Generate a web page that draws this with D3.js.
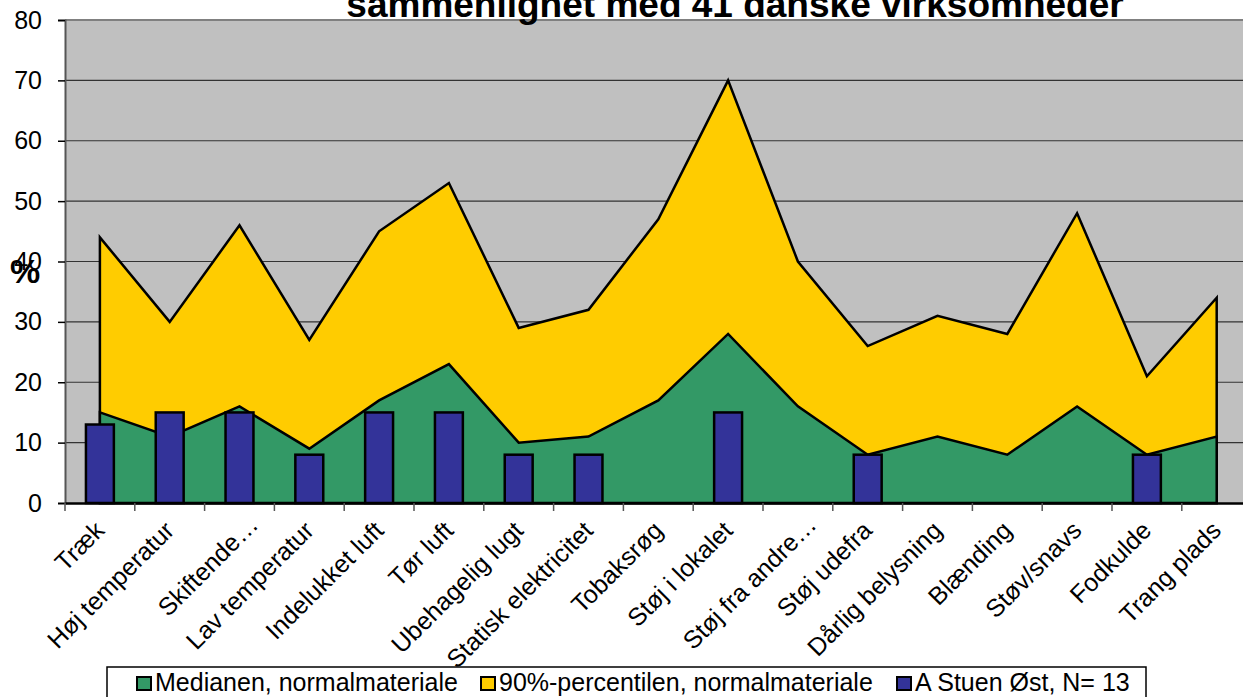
<!DOCTYPE html>
<html>
<head>
<meta charset="utf-8">
<script src="https://cdn.jsdelivr.net/npm/d3@7"></script>
<style>
  body { margin: 0; background: #fff; }
  svg { display: block; font-family: "Liberation Sans", Arial, sans-serif; }
</style>
</head>
<body>
<svg width="1243" height="697"></svg>
<script>
// data
const categories = ["Træk", "Høj temperatur", "Skiftende…", "Lav temperatur", "Indelukket luft",
  "Tør luft", "Ubehagelig lugt", "Statisk elektricitet", "Tobaksrøg", "Støj i lokalet",
  "Støj fra andre…", "Støj udefra", "Dårlig belysning", "Blænding", "Støv/snavs", "Fodkulde", "Trang plads"];
const median = [15, 11, 16, 9, 17, 23, 10, 11, 17, 28, 16, 8, 11, 8, 16, 8, 11];
const percentile90 = [44, 30, 46, 27, 45, 53, 29, 32, 47, 70, 40, 26, 31, 28, 48, 21, 34];
const stuenOst = [13, 15, 15, 8, 15, 15, 8, 8, 0, 15, 0, 8, 0, 0, 0, 8, 0];
const yTicks = [0, 10, 20, 30, 40, 50, 60, 70, 80];
const legendItems = [
  { label: "Medianen, normalmateriale", color: "#339966" },
  { label: "90%-percentilen, normalmateriale", color: "#FFCC00" },
  { label: "A Stuen Øst, N= 13", color: "#333399" }
];

const svg = d3.select("svg");

const plotLeft = 65, plotTop = 20, plotBottom = 503;
const band = 69.8;

const x = d3.scaleBand()
  .domain(categories)
  .range([plotLeft, plotLeft + band * categories.length])
  .padding(0);
const y = d3.scaleLinear().domain([0, 80]).range([plotBottom, plotTop]);
const cx = d => x(d) + x.bandwidth() / 2;

// plot background
svg.append("rect")
  .attr("x", plotLeft)
  .attr("y", plotTop)
  .attr("width", x.range()[1] - plotLeft)
  .attr("height", plotBottom - plotTop)
  .attr("fill", "#C0C0C0");

// grid
svg.append("g")
  .selectAll("line")
  .data(yTicks.slice(1))
  .enter()
  .append("line")
  .attr("x1", plotLeft)
  .attr("x2", x.range()[1])
  .attr("y1", d => y(d))
  .attr("y2", d => y(d))
  .attr("stroke", d => d === 80 ? "#808080" : "#333")
  .attr("stroke-width", d => d === 80 ? 2 : 1.2);

// title (first line is cut off above the picture)
svg.append("text")
  .attr("x", 735)
  .attr("y", 17)
  .attr("text-anchor", "middle")
  .style("font-weight", "bold")
  .style("font-size", "37px")
  .text("sammenlignet med 41 danske virksomheder");

// areas
const area = d3.area()
  .x(d => cx(d.cat))
  .y0(y(0))
  .y1(d => y(d.v));

const pData = categories.map((c, i) => ({ cat: c, v: percentile90[i] }));
const mData = categories.map((c, i) => ({ cat: c, v: median[i] }));

svg.append("path")
  .datum(pData)
  .attr("d", area)
  .attr("fill", "#FFCC00")
  .attr("stroke", "#000")
  .attr("stroke-width", 2.5);

svg.append("path")
  .datum(mData)
  .attr("d", area)
  .attr("fill", "#339966")
  .attr("stroke", "#000")
  .attr("stroke-width", 2.5);

// bars
const barW = x.bandwidth() * 0.4;
svg.append("g")
  .selectAll("rect")
  .data(categories.map((c, i) => ({ cat: c, v: stuenOst[i] })).filter(d => d.v > 0))
  .enter()
  .append("rect")
  .attr("x", d => cx(d.cat) - barW / 2)
  .attr("y", d => y(d.v))
  .attr("width", barW)
  .attr("height", d => y(0) - y(d.v))
  .attr("fill", "#333399")
  .attr("stroke", "#000")
  .attr("stroke-width", 2.5);

// y axis
const yAxis = svg.append("g")
  .attr("transform", `translate(${plotLeft},0)`)
  .call(d3.axisLeft(y).tickValues(yTicks).tickSize(7).tickPadding(16));
yAxis.select(".domain").attr("stroke", "#555").attr("stroke-width", 2);
yAxis.selectAll(".tick line").attr("stroke", "#000").attr("stroke-width", 1.5);
yAxis.selectAll("text")
  .style("font-size", "25px")
  .style("font-family", "'Liberation Sans', Arial, sans-serif")
  .attr("fill", "#000");

// x axis
const xAxis = svg.append("g")
  .attr("transform", `translate(0,${plotBottom})`)
  .call(d3.axisBottom(x).tickSize(0).tickFormat(""));
xAxis.select(".domain").attr("stroke", "#000").attr("stroke-width", 2.5);

svg.append("g")
  .selectAll("line")
  .data(categories)
  .enter()
  .append("line")
  .attr("x1", d => x(d))
  .attr("x2", d => x(d))
  .attr("y1", plotBottom)
  .attr("y2", plotBottom + 8)
  .attr("stroke", "#555")
  .attr("stroke-width", 1.5);

// truncated labels sit a little further along their baseline
svg.append("g")
  .selectAll("text")
  .data(categories)
  .enter()
  .append("text")
  .attr("transform", d => `translate(${cx(d) + 6},${plotBottom + 29}) rotate(-45)`)
  .attr("dx", d => d.endsWith("…") ? 14 : 0)
  .attr("dy", d => d.endsWith("…") ? 6 : 0)
  .attr("text-anchor", "end")
  .style("font-size", "25px")
  .text(d => d);

// y label
svg.append("text")
  .attr("x", 25)
  .attr("y", 283)
  .attr("text-anchor", "middle")
  .style("font-weight", "bold")
  .style("font-size", "34px")
  .text("%");

// legend
const legend = svg.append("g");
legend.append("rect")
  .attr("x", 107)
  .attr("y", 667)
  .attr("width", 1039)
  .attr("height", 40)
  .attr("fill", "#fff")
  .attr("stroke", "#000")
  .attr("stroke-width", 1.5);

const legendX = [137, 481, 897];
legendItems.forEach((item, i) => {
  legend.append("rect")
    .attr("x", legendX[i])
    .attr("y", 677)
    .attr("width", 14)
    .attr("height", 13)
    .attr("fill", item.color)
    .attr("stroke", "#000")
    .attr("stroke-width", 2);
  legend.append("text")
    .attr("x", legendX[i] + 18)
    .attr("y", 691)
    .style("font-size", "25px")
    .text(item.label);
});
</script>
</body>
</html>
